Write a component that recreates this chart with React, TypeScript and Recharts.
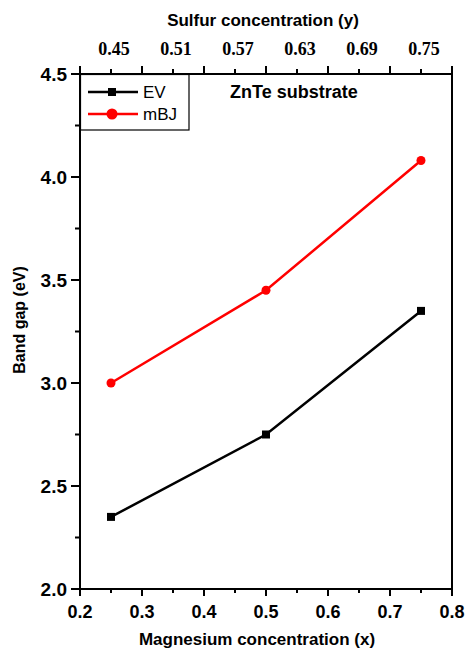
import React from 'react';
import { LineChart, Line, XAxis, YAxis, Customized } from 'recharts';

const magnesium = [0.25, 0.5, 0.75];
const evGap = [2.35, 2.75, 3.35];
const mbjGap = [3.0, 3.45, 4.08];

const xTicks = [0.2, 0.25, 0.3, 0.35, 0.4, 0.45, 0.5, 0.55, 0.6, 0.65, 0.7, 0.75, 0.8];
const yTicks = [2.0, 2.25, 2.5, 2.75, 3.0, 3.25, 3.5, 3.75, 4.0, 4.25, 4.5];
const sulfurLabels = ['0.45', '0.51', '0.57', '0.63', '0.69', '0.75'];

const SANS = '"Liberation Sans", Arial, sans-serif';
const SERIF = '"Liberation Serif", "Times New Roman", serif';

const data = magnesium.map((x, i) => ({ x, ev: evGap[i], mbj: mbjGap[i] }));

const isMajorX = (v: number) => Math.abs(v * 10 - Math.round(v * 10)) < 1e-6;
const isMajorY = (v: number) => Math.abs(v * 2 - Math.round(v * 2)) < 1e-6;

const BottomTick = ({ x, y, payload }: any) => {
  const major = isMajorX(payload.value);
  return (
    <g>
      <rect x={x - 1} y={y} width={2} height={major ? 7 : 4} fill="#000" />
      {major && (
        <text x={x} y={y + 29} textAnchor="middle" fontFamily={SANS} fontWeight="bold" fontSize={18} fill="#000">
          {payload.value.toFixed(1)}
        </text>
      )}
    </g>
  );
};

const TopTick = ({ x, y, payload }: any) => {
  const v = payload.value;
  const major = isMajorX(v);
  // sulfur labels sit at x = 0.25, 0.35 ... 0.75
  const idx = Math.round((v - 0.25) * 10);
  const hasLabel = !major && idx >= 0 && idx < sulfurLabels.length;
  return (
    <g>
      <rect x={x - 1} y={y - (major ? 8 : 5)} width={2} height={major ? 8 : 5} fill="#000" />
      {hasLabel && (
        <text x={x + 3} y={y - 19} textAnchor="middle" fontFamily={SERIF} fontWeight="bold" fontSize={18} fill="#000">
          {sulfurLabels[idx]}
        </text>
      )}
    </g>
  );
};

const LeftTick = ({ x, y, payload }: any) => {
  const major = isMajorY(payload.value);
  return (
    <g>
      <rect x={x - (major ? 9 : 5)} y={y - 1} width={major ? 9 : 5} height={2} fill="#000" />
      {major && (
        <text x={x - 13} y={y} textAnchor="end" dominantBaseline="central" fontFamily={SANS} fontWeight="bold" fontSize={19} fill="#000">
          {payload.value.toFixed(1)}
        </text>
      )}
    </g>
  );
};

const RightTick = ({ x, y }: any) => <rect x={x} y={y - 1} width={3} height={2} fill="#000" />;

const SquareDot = ({ cx, cy }: any) => (
  <rect x={cx - 4} y={cy - 4} width={8} height={8} fill="#000" />
);

const CircleDot = ({ cx, cy }: any) => <circle cx={cx} cy={cy} r={4.5} fill="#ff0000" />;

const Decorations = () => (
  <g>
    <text x={263} y={26} textAnchor="middle" fontFamily={SANS} fontWeight="bold" fontSize={17} fill="#000">
      Sulfur concentration (y)
    </text>
    <text x={257} y={645} textAnchor="middle" fontFamily={SANS} fontWeight="bold" fontSize={17} fill="#000">
      Magnesium concentration (x)
    </text>
    <text x={25} y={320} textAnchor="middle" transform="rotate(-90 25 320)" fontFamily={SANS} fontWeight="bold" fontSize={16} fill="#000">
      Band gap (eV)
    </text>
    <text x={230} y={98} fontFamily={SANS} fontWeight="bold" fontSize={18} fill="#000">
      ZnTe substrate
    </text>
    {/* legend box */}
    <rect x={80.5} y={74.5} width={108.5} height={55.5} fill="#fff" stroke="#000" strokeWidth={1.2} />
    <line x1={88} x2={138} y1={92} y2={92} stroke="#000" strokeWidth={2.5} />
    <rect x={108} y={88} width={8} height={8} fill="#000" />
    <text x={143} y={98} fontFamily={SANS} fontSize={17} fill="#000">EV</text>
    <line x1={88} x2={138} y1={114} y2={114} stroke="#ff0000" strokeWidth={2.5} />
    <circle cx={112} cy={114} r={5.5} fill="#ff0000" />
    <text x={143} y={120} fontFamily={SANS} fontSize={17} fill="#000">mBJ</text>
  </g>
);

const axisCommon = {
  type: 'number' as const,
  interval: 0 as const,
  tickSize: 0,
  tickMargin: 0,
  tickLine: false,
  axisLine: { stroke: '#000', strokeWidth: 2 },
};

export default function App() {
  return (
    <div style={{ position: 'absolute', left: 0, top: 0 }}>
      <LineChart width={465} height={649} data={data} margin={{ top: 0, right: 0, bottom: 0, left: 0 }}>
        <XAxis {...axisCommon} dataKey="x" domain={[0.2, 0.8]} ticks={xTicks} height={60} tick={<BottomTick />} />
        <XAxis
          {...axisCommon}
          xAxisId="top"
          orientation="top"
          dataKey="x"
          domain={[0.2, 0.8]}
          ticks={xTicks}
          height={74}
          tick={<TopTick />}
        />
        <YAxis {...axisCommon} domain={[2, 4.5]} ticks={yTicks} width={80} tick={<LeftTick />} />
        <YAxis
          {...axisCommon}
          yAxisId="right"
          orientation="right"
          domain={[2, 4.5]}
          ticks={yTicks}
          width={13}
          tick={<RightTick />}
        />
        <Line dataKey="ev" stroke="#000" strokeWidth={2.5} dot={<SquareDot />} activeDot={false} isAnimationActive={false} />
        <Line dataKey="mbj" stroke="#ff0000" strokeWidth={2.5} dot={<CircleDot />} activeDot={false} isAnimationActive={false} />
        <Customized component={Decorations} />
      </LineChart>
    </div>
  );
}
